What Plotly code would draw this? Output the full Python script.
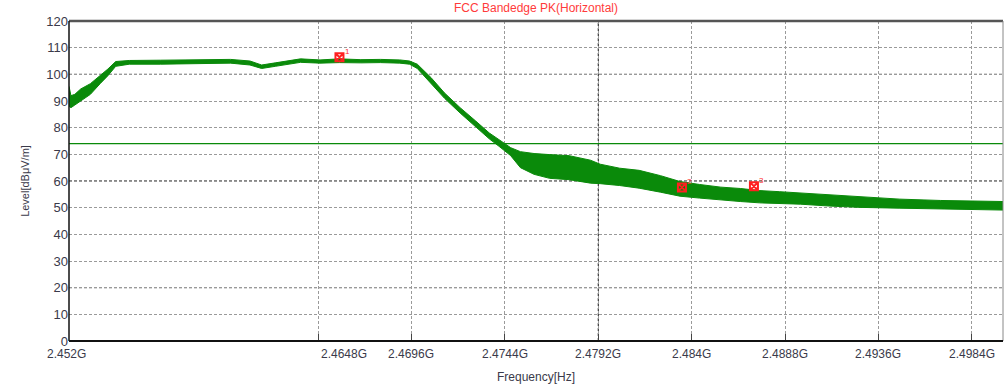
import plotly.graph_objects as go

# Frequency grid of the measured trace envelope (GHz)
freq_ghz = [2.4520, 2.4521, 2.4523, 2.4526, 2.4531, 2.4536, 2.4540, 2.4544, 2.4551,
            2.4567, 2.4587, 2.4603, 2.4613, 2.4619, 2.4626, 2.4639, 2.4649, 2.4659,
            2.4670, 2.4680, 2.4690, 2.4695, 2.4699, 2.4706, 2.4713, 2.4721, 2.4729,
            2.4736, 2.4741, 2.4747, 2.4752, 2.4759, 2.4767, 2.4777, 2.4788, 2.4793,
            2.4803, 2.4813, 2.4824, 2.4834, 2.4844, 2.4855, 2.4865, 2.4875, 2.4885,
            2.4896, 2.4911, 2.4927, 2.4947, 2.4968, 2.4988, 2.5000]
# Peak trace: upper and lower edge of the noise band (dBuV/m)
level_upper = [95.5, 92.0, 92.5, 94.5, 96.5, 99.5, 102.0, 104.8, 105.2,
               105.3, 105.4, 105.6, 105.0, 103.5, 104.3, 105.8, 105.4, 105.8,
               105.5, 105.6, 105.4, 105.0, 103.8, 98.8, 93.0, 87.5, 82.5,
               78.0, 75.5, 72.5, 71.0, 70.3, 69.9, 69.5, 67.8, 66.3,
               64.8, 64.0, 62.0, 59.8, 58.7, 57.7, 57.2, 56.4, 56.0,
               55.5, 54.7, 54.2, 53.2, 52.7, 52.4, 52.3]
level_lower = [88.0, 87.5, 88.5, 90.0, 92.5, 96.5, 99.5, 103.0, 103.8,
               103.8, 104.0, 104.2, 103.5, 102.2, 103.0, 104.5, 104.2, 104.4,
               104.3, 104.4, 104.2, 103.8, 102.2, 96.8, 91.0, 85.5, 80.3,
               75.8, 73.0, 69.5, 65.0, 62.5, 61.0, 60.5, 59.2, 59.0,
               58.3, 57.3, 55.8, 54.3, 53.6, 52.8, 52.3, 51.8, 51.6,
               51.3, 50.6, 50.1, 49.8, 49.6, 49.3, 49.1]

# FCC limit line (dBuV/m)
limit_level = 74

# Markers
marker_ids = ["1", "2", "3"]
marker_freq = [2.4659, 2.4835, 2.4872]
marker_level = [106.4, 57.6, 58.0]

# Axes
x_ticks = [2.452, 2.4648, 2.4696, 2.4744, 2.4792, 2.484, 2.4888, 2.4936, 2.4984]
x_labels = ["2.452G", "2.4648G", "2.4696G", "2.4744G", "2.4792G", "2.484G",
            "2.4888G", "2.4936G", "2.4984G"]
y_ticks = list(range(0, 121, 10))
x_range = [2.452, 2.500]
y_range = [0, 120]

GREEN = "#0a8a0a"
FONT = "Liberation Sans, Arial, sans-serif"

fig = go.Figure()

# Noise band of the peak trace
fig.add_trace(go.Scatter(x=freq_ghz, y=level_lower, mode="lines",
                         line=dict(color=GREEN, width=1), hoverinfo="skip",
                         showlegend=False))
fig.add_trace(go.Scatter(x=freq_ghz, y=level_upper, mode="lines",
                         line=dict(color=GREEN, width=1), fill="tonexty",
                         fillcolor=GREEN, showlegend=False))

# Limit line
fig.add_trace(go.Scatter(x=x_range, y=[limit_level, limit_level], mode="lines",
                         line=dict(color=GREEN, width=1.3), showlegend=False))

# Markers with their numbers
fig.add_trace(go.Scatter(x=marker_freq, y=marker_level, mode="markers",
                         marker=dict(symbol="square-x-open", size=8,
                                     color="#ff2020", line=dict(color="#ff2020", width=2)),
                         showlegend=False))
for mid, mf, ml in zip(marker_ids, marker_freq, marker_level):
    fig.add_annotation(x=mf, y=ml, text=mid, showarrow=False, xshift=8, yshift=6,
                       font=dict(family=FONT, size=8, color="#ff3030"))

shapes = []
# Heavier grid lines
for yv in [20, 60, 100]:
    shapes.append(dict(type="line", xref="paper", x0=0, x1=1, yref="y", y0=yv, y1=yv,
                       line=dict(color="#111111", width=1, dash="3px,2px"), layer="below"))
shapes.append(dict(type="line", xref="x", x0=2.4792, x1=2.4792, yref="paper", y0=0, y1=1,
                   line=dict(color="#111111", width=1, dash="3px,2px"), layer="below"))
# Frame
shapes.append(dict(type="line", xref="paper", yref="paper", x0=0, x1=1, y0=1, y1=1,
                   line=dict(color="#555555", width=2.5)))
shapes.append(dict(type="line", xref="paper", yref="paper", x0=1, x1=1, y0=0, y1=1,
                   line=dict(color="#888888", width=1)))
shapes.append(dict(type="line", xref="paper", yref="paper", x0=0, x1=0, y0=0, y1=1,
                   line=dict(color="#111111", width=1.5)))
shapes.append(dict(type="line", xref="paper", yref="paper", x0=0, x1=1, y0=0, y1=0,
                   line=dict(color="#111111", width=2)))

# Frequency labels under the axis
label_shift = {"2.452G": -3, "2.4648G": 26}
for tv, tl in zip(x_ticks, x_labels):
    fig.add_annotation(x=tv, xref="x", y=0, yref="paper", yanchor="top", yshift=-4,
                       xshift=label_shift.get(tl, 0), text=tl, showarrow=False,
                       font=dict(family=FONT, size=12, color="#3a3a4a"))

fig.update_layout(
    width=1004, height=391,
    margin=dict(l=69, r=1, t=21, b=50),
    paper_bgcolor="white", plot_bgcolor="white",
    title=dict(text="FCC Bandedge PK(Horizontal)", x=0.5, xref="paper",
               y=0.99, yanchor="top",
               font=dict(family=FONT, size=12, color="#ff3b3b")),
    shapes=shapes,
    xaxis=dict(range=x_range, tickvals=x_ticks, showticklabels=False,
               ticks="inside", ticklen=7, tickcolor="#444444", tickwidth=1,
               showgrid=True, gridcolor="#9a9a9a", griddash="3px,2px", gridwidth=1,
               zeroline=False, showline=False,
               title=dict(text="Frequency[Hz]", standoff=31,
                          font=dict(family=FONT, size=12, color="#3a3a4a"))),
    yaxis=dict(range=y_range, tickvals=y_ticks, ticks="", showgrid=True,
               gridcolor="#9a9a9a", griddash="3px,2px", gridwidth=1,
               zeroline=False, showline=False,
               tickfont=dict(family=FONT, size=13, color="#3a3a4a"),
               title=dict(text="Level[dBμV/m]", standoff=14,
                          font=dict(family=FONT, size=11, color="#3a3a4a"))),
)

fig.write_html("out.html")
